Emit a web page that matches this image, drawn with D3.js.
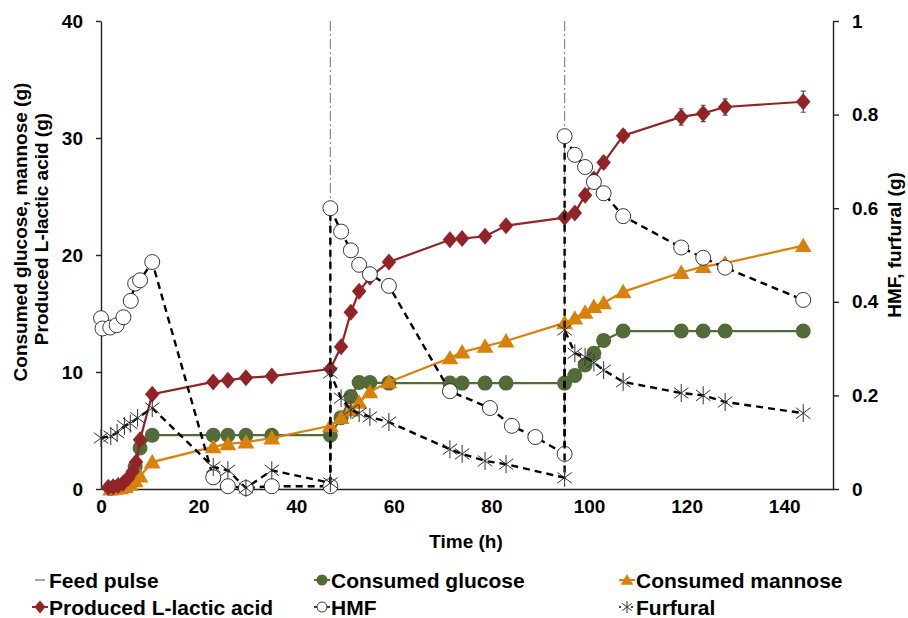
<!DOCTYPE html>
<html><head><meta charset="utf-8">
<script src="https://cdn.jsdelivr.net/npm/d3@7"></script>
<style>
html,body{margin:0;padding:0;background:#fff;}
svg text{font-family:"Liberation Sans",Arial,sans-serif;font-weight:bold;fill:#000;}
</style></head>
<body><svg id="c" width="908" height="618"></svg>
<script>
// ---------- data ----------
const xTicks = [0,20,40,60,80,100,120,140];
const yLeftTicks = [0,10,20,30,40];
const yRightTicks = [0,0.2,0.4,0.6,0.8,1];
const feedPulseTimes = [47,95];

const lacticTime = [1.5,2.5,3.5,4.5,5.5,6.5,7.2,8,10.5,23,26,29.7,35,47,49.2,51.2,52.9,55.1,59,71.5,74,78.7,83,95,97.1,99.2,101,103,107,118.9,123.4,127.9,143.9];
const lacticVal  = [0.15,0.2,0.3,0.5,0.9,1.5,2.3,4.2,8.1,9.15,9.3,9.5,9.65,10.25,12.15,15.1,16.9,18.1,19.4,21.3,21.4,21.6,22.5,23.2,23.6,25.1,26.5,27.9,30.2,31.8,32.1,32.65,33.1];
const lacticErr  = [0,0,0,0,0,0,0,0,0.1,0.1,0.1,0.1,0.1,0.2,0.2,0.3,0.3,0.3,0.3,0.2,0.2,0.2,0.2,0.3,0.3,0.4,0.5,0.5,0.5,0.7,0.7,0.7,0.9];

const glucoseTime = [2,3,4,5,6,7,8,10.5,23,26,29.7,35,47,49.2,51.2,52.9,55.1,59,71.5,74,78.7,83,95,97.1,99.2,101,103,107,118.9,123.4,127.9,143.9];
const glucoseVal  = [0.05,0.1,0.2,0.4,0.9,1.9,3.5,4.6,4.6,4.6,4.6,4.6,4.6,6.1,7.9,9.1,9.1,9.05,9.05,9.05,9.05,9.05,9.05,9.7,10.6,11.6,12.7,13.5,13.5,13.5,13.5,13.5];

const mannoseTime = [2,3,4,5,6,7,8,10.5,23,26,29.7,35,47,49.2,51.2,52.9,55.1,59,71.5,74,78.7,83,95,97.1,99.2,101,103,107,118.9,123.4,127.9,143.9];
const mannoseVal  = [0,0.05,0.1,0.2,0.4,0.7,1.1,2.3,3.6,3.85,4.0,4.35,5.4,6.1,6.75,7.4,8.3,9.15,11.2,11.7,12.2,12.65,14.2,14.6,15.1,15.6,15.9,16.85,18.5,19.0,19.3,20.8];

const hmfTime = [0,0.3,1.9,3.2,4.6,6.1,7,8,10.5,23,26,29.7,35,47,47,49.2,51.2,52.9,55.1,59,71.5,79.7,84.2,89,95,95,97.1,99.2,101,103,107,118.9,123.4,127.9,143.9];
const hmfVal  = [0.365,0.343,0.345,0.35,0.367,0.402,0.439,0.446,0.485,0.025,0.006,0.002,0.006,0.006,0.60,0.55,0.51,0.479,0.459,0.434,0.209,0.173,0.135,0.111,0.075,0.754,0.714,0.688,0.656,0.632,0.583,0.516,0.494,0.473,0.404];

const furfuralTime = [0,2,3.3,4.8,6,7.5,10.5,23,26,29.7,35,47,47,49.2,51.2,52.9,55.1,59,71.5,74,78.7,83,95,95,97.1,99.2,101,103,107,118.9,123.4,127.9,143.9];
const furfuralVal  = [0.109,0.113,0.12,0.135,0.14,0.152,0.173,0.047,0.04,0.002,0.04,0.013,0.248,0.194,0.169,0.162,0.154,0.143,0.085,0.075,0.06,0.053,0.024,0.34,0.29,0.282,0.27,0.254,0.229,0.205,0.2,0.186,0.162];

// ---------- setup ----------
const svg = d3.select("#c");
const L=101,R=833,T=21,B=489;
const x = d3.scaleLinear().domain([0,150]).range([L,R]);
const yL = d3.scaleLinear().domain([0,40]).range([B,T]);
const yR = d3.scaleLinear().domain([0,1]).range([B,T]);

const C = {lactic:"#922427", glucose:"#526B38", mannose:"#D9820B"};
const zip = (t,v,e)=>t.map((d,i)=>({t:d,v:v[i],e:e?e[i]:0}));

// feed pulse
svg.append("g").selectAll("line").data(feedPulseTimes).join("line")
  .attr("x1",d=>x(d)).attr("x2",d=>x(d)).attr("y1",T).attr("y2",B)
  .attr("stroke","#8a8a8a").attr("stroke-width",1.2).attr("stroke-dasharray","10,3,2,3");

// axes
const axFont = g=>g.selectAll("text").style("font-size","19px").style("font-family","Liberation Sans, Arial, sans-serif").style("font-weight","bold");
svg.append("g").attr("transform",`translate(${L},0)`)
  .call(d3.axisLeft(yL).tickValues(yLeftTicks).tickSize(5).tickSizeOuter(0).tickPadding(13).tickFormat(d3.format("d")))
  .call(g=>{g.selectAll("line,path").attr("stroke","#222").attr("stroke-width",1.4);axFont(g);});
svg.append("g").attr("transform",`translate(${R},0)`)
  .call(d3.axisRight(yR).tickValues(yRightTicks).tickSize(6).tickSizeOuter(0).tickPadding(13).tickFormat(d=>d===0?"0":d===1?"1":d.toFixed(1)))
  .call(g=>{g.selectAll("line,path").attr("stroke","#222").attr("stroke-width",1.4);axFont(g);});
svg.append("g").attr("transform",`translate(0,${B})`)
  .call(d3.axisBottom(x).tickValues(xTicks).tickSize(0).tickSizeOuter(0).tickPadding(11))
  .call(g=>{g.select("path").attr("stroke","#222").attr("stroke-width",1.6);axFont(g);});

// axis titles
svg.append("text").attr("transform","translate(27,232) rotate(-90)").attr("text-anchor","middle").style("font-size","19px").text("Consumed glucose, mannose (g)");
svg.append("text").attr("transform","translate(48,229) rotate(-90)").attr("text-anchor","middle").style("font-size","19px").text("Produced L-lactic acid (g)");
svg.append("text").attr("transform","translate(901,245) rotate(-90)").attr("text-anchor","middle").style("font-size","19px").text("HMF, furfural (g)");
svg.append("text").attr("x",466).attr("y",548).attr("text-anchor","middle").style("font-size","19px").text("Time (h)");

// marker shapes
const diamond = s=>`M0,${-s}L${s*0.85},0L0,${s}L${-s*0.85},0Z`;
const tri = s=>`M0,${-s}L${s*1.05},${s*0.8}L${-s*1.05},${s*0.8}Z`;
const star = s=>{const a=s*0.8,b=s*0.6;return `M0,${-s}L0,${s}M${-a},${-b}L${a},${b}M${-a},${b}L${a},${-b}`;};

function series(data, yS, color, dashed){
  const line = d3.line().x(d=>x(d.t)).y(d=>yS(d.v));
  svg.append("path").datum(data).attr("d",line).attr("fill","none")
    .attr("stroke",color).attr("stroke-width",dashed?2.4:2.2)
    .attr("stroke-dasharray",dashed?"7,5":null);
}
// glucose
const gData = zip(glucoseTime,glucoseVal);
series(gData,yL,C.glucose,false);
svg.append("g").selectAll("circle").data(gData).join("circle")
  .attr("cx",d=>x(d.t)).attr("cy",d=>yL(d.v)).attr("r",7.5).attr("fill",C.glucose);
// mannose
const mData = zip(mannoseTime,mannoseVal);
series(mData,yL,C.mannose,false);
svg.append("g").selectAll("path").data(mData).join("path")
  .attr("transform",d=>`translate(${x(d.t)},${yL(d.v)})`).attr("d",tri(8)).attr("fill",C.mannose);
// lactic
const lData = zip(lacticTime,lacticVal,lacticErr);
svg.append("g").selectAll("path").data(lData.filter(d=>d.e>0)).join("path")
  .attr("d",d=>`M${x(d.t)},${yL(d.v-d.e)}V${yL(d.v+d.e)}M${x(d.t)-2.5},${yL(d.v-d.e)}h5M${x(d.t)-2.5},${yL(d.v+d.e)}h5`)
  .attr("stroke","#555").attr("stroke-width",1.2).attr("fill","none");
series(lData,yL,C.lactic,false);
svg.append("g").selectAll("path").data(lData).join("path")
  .attr("transform",d=>`translate(${x(d.t)},${yL(d.v)})`).attr("d",diamond(8.5)).attr("fill",C.lactic);
// HMF
const hData = zip(hmfTime,hmfVal);
series(hData,yR,"#000",true);
svg.append("g").selectAll("circle").data(hData).join("circle")
  .attr("cx",d=>x(d.t)).attr("cy",d=>yR(d.v)).attr("r",7.5).attr("fill","#fff").attr("stroke","#222").attr("stroke-width",0.9);
// furfural
const fData = zip(furfuralTime,furfuralVal);
series(fData,yR,"#000",true);
svg.append("g").selectAll("path").data(fData).join("path")
  .attr("transform",d=>`translate(${x(d.t)},${yR(d.v)})`).attr("d",star(9)).attr("fill","none").attr("stroke","#333").attr("stroke-width",1);

// legend
const legend = [
  {name:"Feed pulse", kind:"feed", col:0,row:0},
  {name:"Consumed glucose", kind:"glucose", col:1,row:0},
  {name:"Consumed mannose", kind:"mannose", col:2,row:0},
  {name:"Produced L-lactic acid", kind:"lactic", col:0,row:1},
  {name:"HMF", kind:"hmf", col:1,row:1},
  {name:"Furfural", kind:"furfural", col:2,row:1}
];
const colX=[40,322,627], rowY=[580,607];
const lg = svg.append("g");
legend.forEach(d=>{
  const cx=colX[d.col], cy=rowY[d.row];
  const g = lg.append("g").attr("transform",`translate(${cx},${cy})`);
  if(d.kind==="feed"){ g.append("line").attr("x1",-5).attr("x2",5).attr("stroke","#8a8a8a").attr("stroke-width",1.5);}
  else if(d.kind==="glucose"){ g.append("line").attr("x1",-8).attr("x2",8).attr("stroke",C.glucose).attr("stroke-width",2); g.append("circle").attr("r",5.5).attr("fill",C.glucose);}
  else if(d.kind==="mannose"){ g.append("line").attr("x1",-8).attr("x2",8).attr("stroke",C.mannose).attr("stroke-width",2); g.append("path").attr("d",tri(6)).attr("fill",C.mannose);}
  else if(d.kind==="lactic"){ g.append("line").attr("x1",-8).attr("x2",8).attr("stroke",C.lactic).attr("stroke-width",2); g.append("path").attr("d",diamond(6.5)).attr("fill",C.lactic);}
  else if(d.kind==="hmf"){ g.append("line").attr("x1",-8).attr("x2",8).attr("stroke","#000").attr("stroke-width",1.5); g.append("circle").attr("r",5).attr("fill","#fff").attr("stroke","#222").attr("stroke-width",0.9);}
  else { g.append("line").attr("x1",-8).attr("x2",8).attr("stroke","#000").attr("stroke-width",1.5).attr("stroke-dasharray","2,10"); g.append("path").attr("d",star(6)).attr("fill","none").attr("stroke","#333").attr("stroke-width",1);}
  g.append("text").attr("x",9).attr("y",0).attr("dy","0.36em").style("font-size","21px").text(d.name);
});
</script></body></html>
